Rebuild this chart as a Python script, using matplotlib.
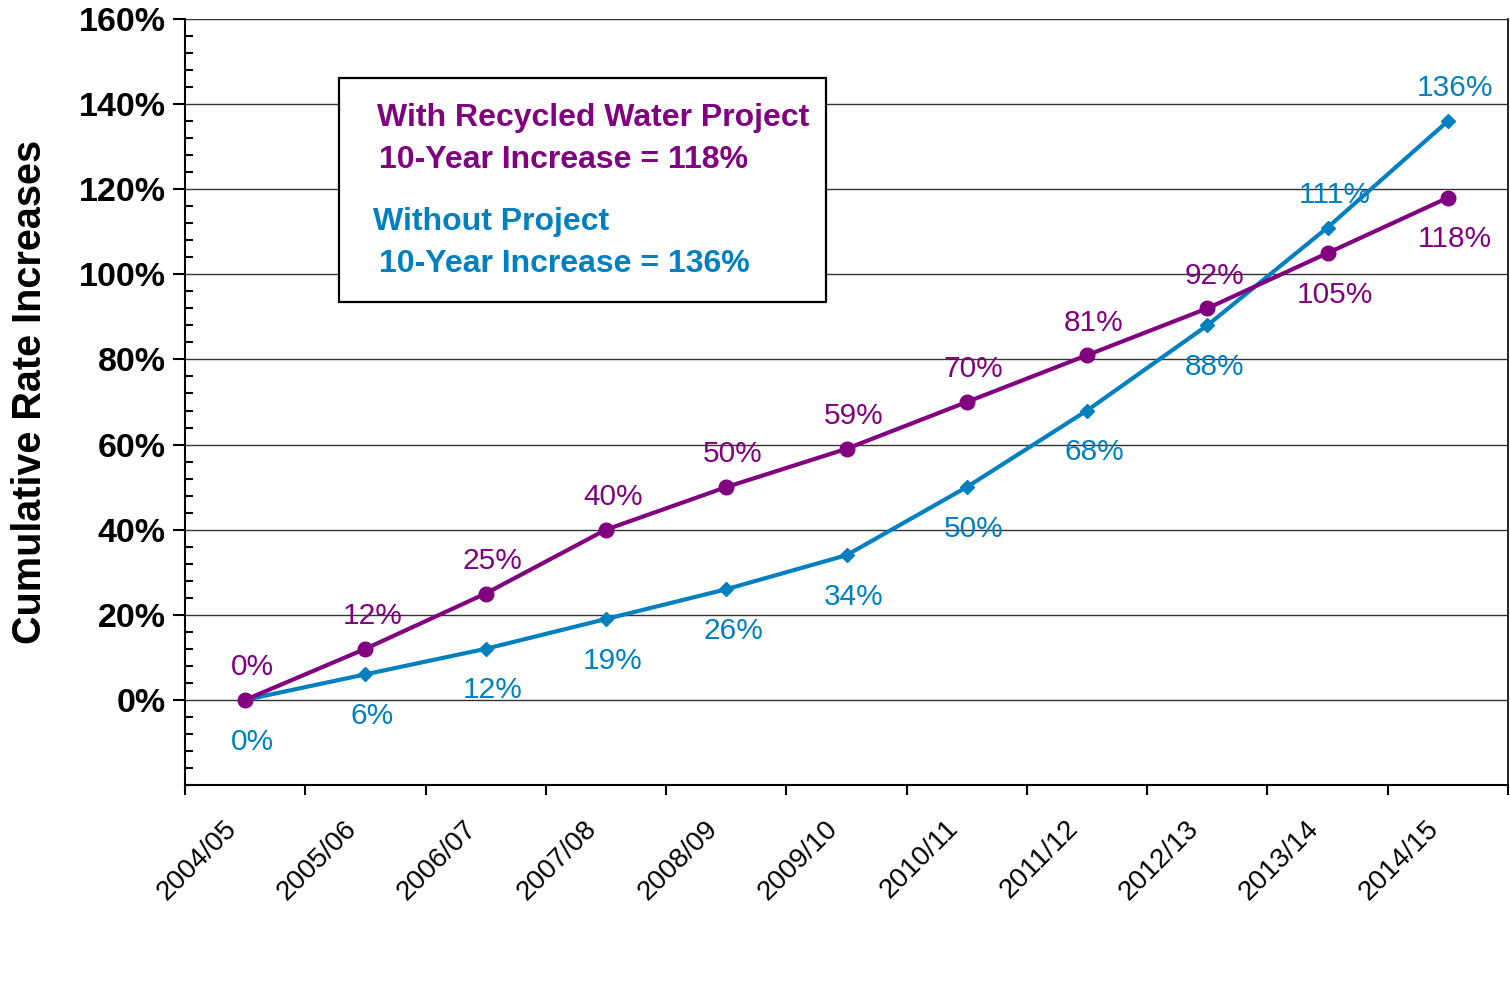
import matplotlib
matplotlib.use('Agg')
import matplotlib.pyplot as plt
from matplotlib.patches import Rectangle
from matplotlib.ticker import MultipleLocator, FixedLocator

plt.rcParams['font.family'] = ['Liberation Sans', 'DejaVu Sans']

# ── Data ──────────────────────────────────────────────────────────────────────
years = ['2004/05', '2005/06', '2006/07', '2007/08', '2008/09', '2009/10',
         '2010/11', '2011/12', '2012/13', '2013/14', '2014/15']
with_project = [0, 12, 25, 40, 50, 59, 70, 81, 92, 105, 118]
without_project = [0, 6, 12, 19, 26, 34, 50, 68, 88, 111, 136]
y_ticks = [0, 20, 40, 60, 80, 100, 120, 140, 160]

PURPLE = '#800080'
BLUE = '#0080C0'

fig = plt.figure(figsize=(15.1, 9.82), dpi=100)
ax = fig.add_axes([185 / 1510, 197 / 982, 1323 / 1510, 766 / 982])

x = list(range(len(years)))
ax.plot(x, with_project, color=PURPLE, linewidth=3, marker='o', markersize=10.5, zorder=4)
ax.plot(x, without_project, color=BLUE, linewidth=3, marker='D', markersize=7.5, zorder=3)

# data labels: the higher series gets its label above, the lower one below
UP, DOWN = 23.5, -30
for i, (w, wo) in enumerate(zip(with_project, without_project)):
    w_up = w >= wo
    ax.annotate(f'{w}%', (i, w), xytext=(5, UP if w_up else DOWN),
                textcoords='offset points', ha='center', va='center',
                fontsize=21.5, color=PURPLE, zorder=6)
    ax.annotate(f'{wo}%', (i, wo), xytext=(5, DOWN if w_up else UP),
                textcoords='offset points', ha='center', va='center',
                fontsize=21.5, color=BLUE, zorder=6)

# axes / ticks
ax.set_xlim(-0.5, len(years) - 0.5)
ax.set_ylim(-20, 160)
ax.yaxis.set_major_locator(FixedLocator(y_ticks))
ax.set_yticklabels([f'{v}%' for v in y_ticks], fontsize=24.5, fontweight='bold')
ax.yaxis.set_minor_locator(MultipleLocator(4))
ax.tick_params(axis='y', which='major', direction='out', length=9, width=1.5, pad=5)
ax.tick_params(axis='y', which='minor', direction='in', length=6, width=1.5)

# category labels sit a little left of the category centre, as in the original
ax.set_xticks([])
ax.set_xticks([i - 0.5 for i in range(len(years) + 1)], minor=True)
ax.tick_params(axis='x', which='minor', direction='out', length=7, width=1.5)
for i, yr in enumerate(years):
    ax.annotate(yr, (i, 0), xycoords=ax.get_xaxis_transform(),
                xytext=(-15.8, -22), textcoords='offset points',
                rotation=45, ha='right', va='top', rotation_mode='anchor',
                fontsize=20, annotation_clip=False)

ax.grid(axis='y', which='major', color='#333333', linewidth=1)
ax.set_axisbelow(True)
ax.spines['top'].set_visible(False)
ax.spines['left'].set_linewidth(1.5)
ax.spines['bottom'].set_linewidth(1.5)
ax.spines['right'].set_linewidth(1.2)

fig.text(30 / 1510, 1 - 392 / 982, 'Cumulative Rate Increases', rotation=90,
         ha='center', va='center', fontsize=28.5, fontweight='bold')

# ── Summary box ───────────────────────────────────────────────────────────────
box = Rectangle((339 / 1510, 1 - 302 / 982), 487 / 1510, 224 / 982,
                transform=fig.transFigure, facecolor='white', edgecolor='black',
                linewidth=1.6, zorder=10)
fig.patches.append(box)
box_lines = [
    (377, 118, 'With Recycled Water Project', PURPLE),
    (379, 160, '10-Year Increase = 118%', PURPLE),
    (373, 222, 'Without Project', BLUE),
    (379, 264, '10-Year Increase = 136%', BLUE),
]
for bx, by, txt, col in box_lines:
    fig.text(bx / 1510, 1 - by / 982, txt, ha='left', va='center', fontsize=23,
             fontweight='bold', color=col, zorder=11)

fig.savefig('out.png', dpi=100)
